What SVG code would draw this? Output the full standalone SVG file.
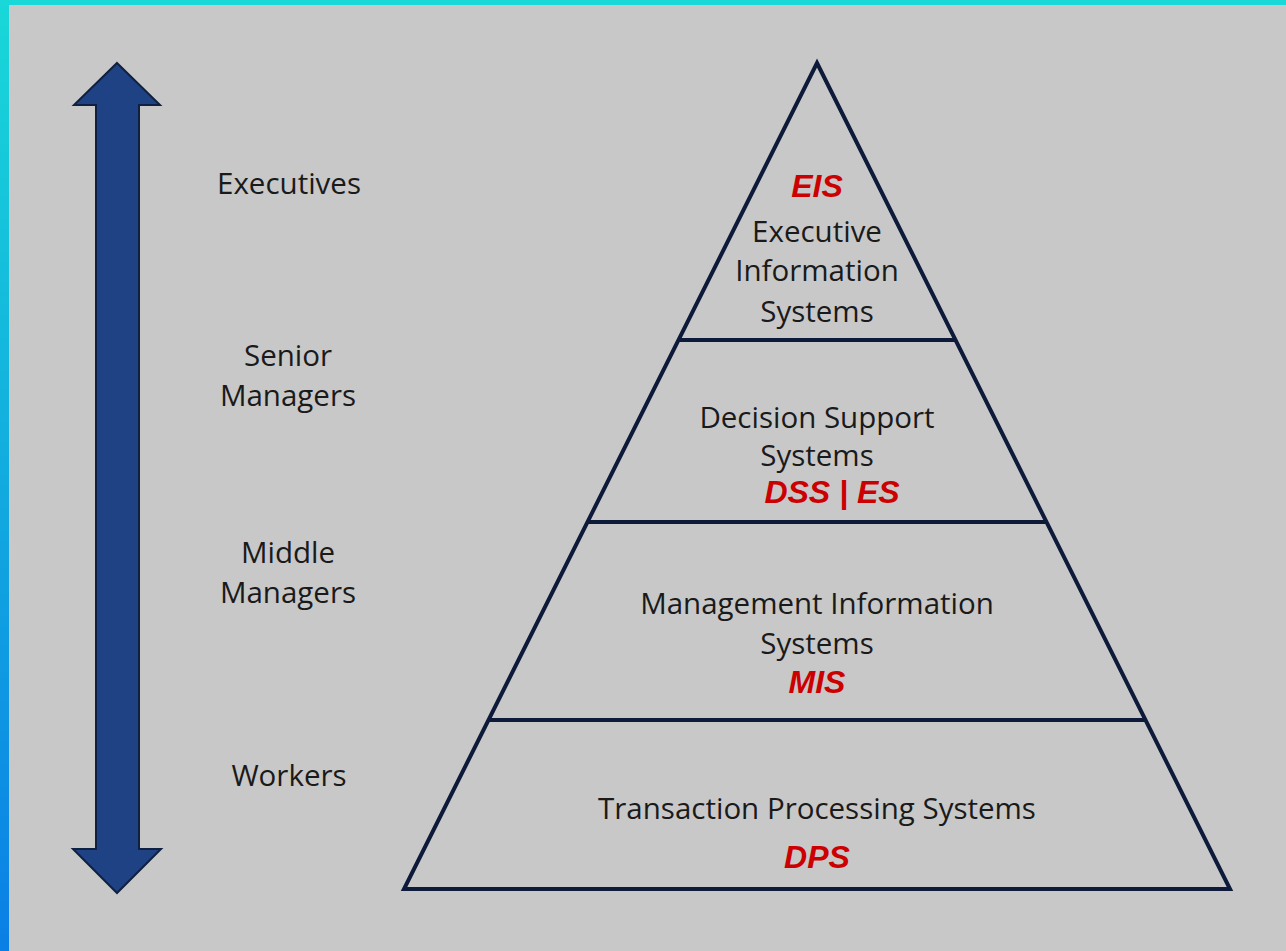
<svg xmlns="http://www.w3.org/2000/svg" width="1286" height="951" viewBox="0 0 1286 951">
<defs>
<linearGradient id="side" x1="0" y1="0" x2="0" y2="1">
<stop offset="0" stop-color="#19d8d8"/>
<stop offset="1" stop-color="#0a7fe6"/>
</linearGradient>
<style>
.lbl{font-family:"Open Sans","Liberation Sans",sans-serif;font-size:29.5px;fill:#1a1a1a;text-anchor:middle}
.red{font-family:"Liberation Sans",Arial,sans-serif;font-size:32px;font-weight:bold;font-style:italic;fill:#cc0000;text-anchor:middle}
.edge{stroke:#0d1a3a;stroke-width:4;fill:none}
</style>
</defs>
<rect width="1286" height="951" fill="#c8c8c8"/>
<rect x="0" y="0" width="1286" height="5" fill="#19d8d8"/>
<rect x="0" y="0" width="9" height="951" fill="url(#side)"/>
<g id="arrow">
<polygon points="117,63 160,105 139,105 139,849 161,849 117,893 73,849 96,849 96,105 74,105" fill="#1f4285" stroke="#102040" stroke-width="2" stroke-linejoin="miter"/>
</g>
<g id="levels">
<text class="lbl" x="289" y="194">Executives</text>
<text class="lbl" x="288" y="366">Senior</text>
<text class="lbl" x="288" y="406">Managers</text>
<text class="lbl" x="288" y="563">Middle</text>
<text class="lbl" x="288" y="603">Managers</text>
<text class="lbl" x="289" y="786">Workers</text>
</g>
<g id="connectors">
<polygon class="edge" points="817,63 1230,889 404,889" stroke-linejoin="miter"/>
<line class="edge" x1="678" y1="340" x2="956" y2="340"/>
<line class="edge" x1="587" y1="522" x2="1047" y2="522"/>
<line class="edge" x1="488" y1="720" x2="1146" y2="720"/>
</g>
<g id="eis">
<text class="red" x="817" y="197">EIS</text>
<text class="lbl" x="817" y="242">Executive</text>
<text class="lbl" x="817" y="281">Information</text>
<text class="lbl" x="817" y="322">Systems</text>
</g>
<g id="dss">
<text class="lbl" x="817" y="428">Decision Support</text>
<text class="lbl" x="817" y="466">Systems</text>
<text class="red" x="832" y="503">DSS | ES</text>
</g>
<g id="mis">
<text class="lbl" x="817" y="614">Management Information</text>
<text class="lbl" x="817" y="654">Systems</text>
<text class="red" x="817" y="693">MIS</text>
</g>
<g id="tps">
<text class="lbl" x="817" y="819">Transaction Processing Systems</text>
<text class="red" x="817" y="868">DPS</text>
</g>
</svg>
